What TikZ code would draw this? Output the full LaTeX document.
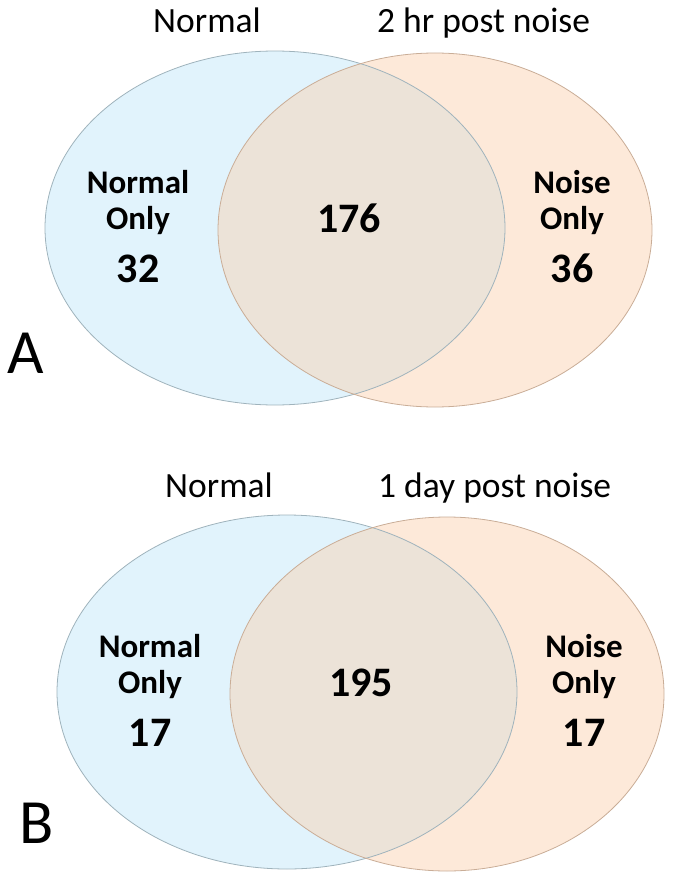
\documentclass[tikz,border=0pt]{standalone}
\usepackage{fontspec}
\setmainfont{Carlito}
\usetikzlibrary{positioning}
\definecolor{setleft}{HTML}{E1F3FC}
\definecolor{setright}{HTML}{FDE9D9}
\definecolor{setboth}{HTML}{ECE3D8}
\definecolor{edgeleft}{HTML}{9FB3BC}
\definecolor{edgeright}{HTML}{C9AD97}
\newcommand{\lbl}[1]{\fontsize{#1}{#1}\selectfont}

\begin{document}
\begin{tikzpicture}[x=1pt, y=-1pt,
  head/.style={font=\lbl{35.5}, inner sep=0pt},
  only/.style={font=\lbl{33}\bfseries, inner sep=0pt, anchor=base},
  count/.style={font=\lbl{42}\bfseries, inner sep=0pt, anchor=base}]
\useasboundingbox (0,0) rectangle (674,880);
\foreach \p/\dx/\dy/\ly/\hx/\later/\nl/\nm/\nr in {A/0/0/373/377/2 hr post noise/32/176/36, B/12/464/379/366/1 day post noise/17/195/17} {
  \begin{scope}[shift={(\dx,\dy)}]
    % the two sets and their overlap
    \fill[setleft] (275,228) ellipse [x radius=230pt, y radius=177pt];
    \fill[setright] (435,230) ellipse [x radius=217pt, y radius=177pt];
    \begin{scope}
      \clip (275,228) ellipse [x radius=230pt, y radius=177pt];
      \fill[setboth] (435,230) ellipse [x radius=217pt, y radius=177pt];
    \end{scope}
    \draw[edgeleft, line width=0.8pt] (275,228) ellipse [x radius=230pt, y radius=177pt];
    \draw[edgeright, line width=0.8pt] (435,230) ellipse [x radius=217pt, y radius=177pt];
    % titles
    \node[head, anchor=base] (hl\p) at (207,33) {Normal};
    \node[head, anchor=base west] (hr\p) at (\hx,33) {\later};
    % counts
    \node[only] (nl\p) at (138,193) {Normal};
    \node[only] (ol\p) at (138,229) {Only};
    \node[count] (cl\p) at (138,282) {\nl};
    \node[count] (cm\p) at (349,232) {\nm};
    \node[only] (nr\p) at (572,193) {Noise};
    \node[only] (or\p) at (572,229) {Only};
    \node[count] (cr\p) at (572,282) {\nr};
    % panel letter
    \node[font=\lbl{63}, inner sep=0pt, anchor=base west] (tag\p) at (7,\ly) {\p};
  \end{scope}
}
\end{tikzpicture}
\end{document}
